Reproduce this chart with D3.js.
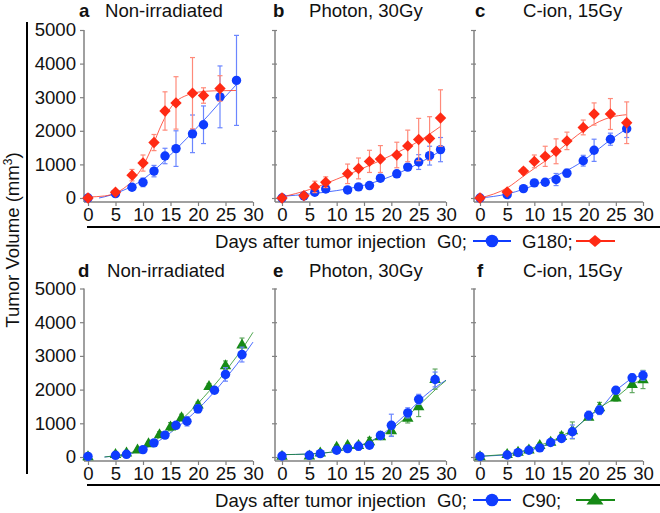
<!DOCTYPE html>
<html><head><meta charset="utf-8">
<script src="https://cdn.jsdelivr.net/npm/d3@7"></script>
<style>body{margin:0;background:#fff;} svg{display:block;font-family:"Liberation Sans",Arial,sans-serif;}</style>
</head><body>
<svg id="c" width="660" height="513"></svg>
<script>
// ---------- DATA ----------
const xTicks = [0,5,10,15,20,25,30];
const yTicks = [0,1000,2000,3000,4000,5000];
const panelLetters = ["a","b","c","d","e","f"];
const panelTitles = ["Non-irradiated","Photon, 30Gy","C-ion, 15Gy","Non-irradiated","Photon, 30Gy","C-ion, 15Gy"];
const xLabel = "Days after tumor injection";
const topLegend = ["G0;","G180;"];
const bottomLegend = ["G0;","C90;"];

// panel a
const aDaysG0 = [0,5,8,10,12,14,16,19,21,24,27];
const aG0 = [0,130,320,465,800,1250,1470,1910,2180,3010,3500];
const aG0Err = [0,40,70,130,170,230,530,560,560,920,1340];
const aDaysG180 = [0,5,8,10,12,14,16,19,21,24];
const aG180 = [0,170,680,1040,1650,2590,2830,3120,3050,3260];
const aG180Err = [0,50,170,240,240,570,780,1060,230,380];
const aFitG0Days = [2,4,6,8,10,12,14,16,18,20,22,24,26,27];
const aFitG0 = [0,80,200,350,550,820,1120,1450,1780,2130,2480,2850,3200,3380];
const aFitG180Days = [0,3,5,7,9,10,11,12,13,14,15,16,18,20,23,27];
const aFitG180 = [30,60,150,350,700,950,1280,1650,2050,2400,2680,2870,3060,3150,3190,3200];

// panel b
const bDays = [0,4,6,8,12,14,16,18,21,23,25,27,29];
const bG0 = [0,60,170,270,240,330,370,590,720,920,1070,1260,1440];
const bG0Err = [0,20,30,40,40,40,50,50,60,90,220,280,360];
const bG180 = [0,70,330,470,720,880,1090,1160,1280,1550,1740,1770,2380];
const bG180Err = [0,40,170,160,290,310,330,400,380,470,630,650,840];
const bFitDays = [0,5,10,15,20,25,29];
const bFitG0 = [50,120,220,380,650,1030,1400];
const bFitG180 = [30,250,560,900,1270,1690,2130];

// panel c
const cDays = [0,5,8,10,12,14,16,19,21,24,27];
const cG0 = [0,100,280,450,470,550,740,1110,1420,1750,2060];
const cG0Err = [0,30,40,60,90,180,120,160,330,180,260];
const cG180 = [0,180,800,1090,1240,1390,1700,2100,2500,2500,2240];
const cG180Err = [0,40,90,190,300,370,260,220,330,460,620];
const cFitDays = [0,5,8,10,12,14,16,18,20,22,24,27];
const cFitG0 = [0,120,260,380,520,660,820,1000,1230,1480,1730,2060];
const cFitG180 = [0,300,650,880,1100,1350,1620,1880,2100,2280,2400,2480];

// panel d
const dDaysG0 = [0,5,7,10,12,14,16,18,20,23,25,28];
const dG0 = [20,50,80,220,420,650,940,1060,1430,1980,2450,3040];
const dG0Err = [60,50,40,50,50,60,60,140,120,60,200,220];
const dDaysC90 = [0,5,7,9,11,13,15,17,20,22,25,28];
const dC90 = [20,80,130,220,400,670,900,1170,1550,2100,2720,3330];
const dC90Err = [40,40,40,40,60,80,120,100,80,80,130,200];
const dFitDays = [3,5,8,10,12,14,16,18,20,22,24,26,28,30];
const dFitG0 = [0,30,110,230,390,600,850,1120,1420,1760,2130,2530,2950,3410];
const dFitC90 = [0,40,140,280,470,700,960,1260,1590,1950,2330,2760,3200,3700];

// panel e
const eDays = [0,5,7,10,12,14,16,18,20,23,25,28];
const eG0 = [30,50,100,200,250,320,350,640,940,1310,1710,2300];
const eG0Err = [30,30,30,40,50,120,90,120,330,150,150,220];
const eC90 = [30,40,130,300,350,350,460,610,790,1160,1500,2310];
const eC90Err = [30,30,40,60,60,70,120,90,170,150,300,300];
const eFitDays = [0,5,10,14,16,18,20,22,24,26,28,30];
const eFitG0 = [70,90,170,330,450,640,880,1170,1480,1800,2060,2280];
const eFitC90 = [70,90,170,330,440,610,820,1080,1370,1680,1990,2270];

// panel f
const fDays = [0,5,7,9,11,13,15,17,20,22,25,28,30];
const fG0 = [20,60,130,200,270,430,550,750,1230,1390,1980,2350,2420];
const fG0Err = [30,30,40,50,50,50,80,200,130,130,100,110,140];
const fC90 = [20,80,150,220,350,450,620,790,1190,1470,1760,2160,2300];
const fC90Err = [30,30,40,60,60,60,110,250,100,150,100,250,270];

// ---------- STYLE ----------
const BLUE = "#0f3cff", BLUE_L = "#6b86ff";
const RED = "#ff2a14", RED_L = "#ff8a7a";
const GREEN = "#168a16", GREEN_L = "#62a862";
const AXIS = "#808080";
const FS = 18.6;

const svg = d3.select("#c");
const cols = [{ax:84,x0:88,x1:253},{ax:275,x0:282,x1:446},{ax:474,x0:480,x1:643}];
const rows = [{y0:198,y1:30,axY:202,lab:221,title:17},{y0:457,y1:288.5,axY:461,lab:480,title:277}];
const titlePos = [[79,105],[273,309],[475,523],[78,107],[273,309],[477,523]];

function series(days, vals, errs){ return days.map((d,i)=>({d, v:vals[i], e: errs?errs[i]:0})); }

const diamondPath = (s)=>`M0,${-s}L${s},0L0,${s}L${-s},0Z`;
const triPath = (w,h)=>`M0,${-h*0.62}L${w/2},${h*0.38}L${-w/2},${h*0.38}Z`;

function marker(g, type, color, x, y, big){
  if(type==="circle") g.append("circle").attr("cx",x).attr("cy",y).attr("r",big?6.3:4.7).attr("fill",color);
  else if(type==="diamond") g.append("path").attr("d",diamondPath(big?7:5.7)).attr("transform",`translate(${x},${y})${big?" scale(1,0.85)":""}`).attr("fill",color);
  else g.append("path").attr("d",big?triPath(17,12):triPath(11.5,10)).attr("transform",`translate(${x},${y})`).attr("fill",color);
}

const panels = [
  {fits:[[aFitG0Days,aFitG0,BLUE],[aFitG180Days,aFitG180,RED]],
   ser:[[series(aDaysG0,aG0,aG0Err),"circle",BLUE,BLUE_L],[series(aDaysG180,aG180,aG180Err),"diamond",RED,RED_L]]},
  {fits:[[bFitDays,bFitG0,BLUE],[bFitDays,bFitG180,RED]],
   ser:[[series(bDays,bG0,bG0Err),"circle",BLUE,BLUE_L],[series(bDays,bG180,bG180Err),"diamond",RED,RED_L]]},
  {fits:[[cFitDays,cFitG0,BLUE],[cFitDays,cFitG180,RED]],
   ser:[[series(cDays,cG0,cG0Err),"circle",BLUE,BLUE_L],[series(cDays,cG180,cG180Err),"diamond",RED,RED_L]]},
  {fits:[[dFitDays,dFitG0,BLUE],[dFitDays,dFitC90,GREEN]],
   ser:[[series(dDaysC90,dC90,dC90Err),"tri",GREEN,GREEN_L],[series(dDaysG0,dG0,dG0Err),"circle",BLUE,BLUE_L]]},
  {fits:[[eFitDays,eFitG0,BLUE],[eFitDays,eFitC90,GREEN]],
   ser:[[series(eDays,eC90,eC90Err),"tri",GREEN,GREEN_L],[series(eDays,eG0,eG0Err),"circle",BLUE,BLUE_L]]},
  {fits:[[fDays,fG0,BLUE,true],[fDays,fC90,GREEN,true]],
   ser:[[series(fDays,fC90,fC90Err),"tri",GREEN,GREEN_L],[series(fDays,fG0,fG0Err),"circle",BLUE,BLUE_L]]}
];

panels.forEach((p,i)=>{
  const c = cols[i%3], r = rows[Math.floor(i/3)];
  const x = d3.scaleLinear().domain([0,30]).range([c.x0,c.x1]);
  const y = d3.scaleLinear().domain([0,5000]).range([r.y0,r.y1]);
  const g = svg.append("g");

  // y axis
  const ya = g.append("g").attr("transform",`translate(${c.ax},0)`)
    .call(d3.axisLeft(y).tickValues(yTicks).tickSize(i%3===0?4:3).tickFormat(i%3===0?d3.format("d"):""));
  ya.select(".domain").remove();
  ya.append("line").attr("x1",0).attr("x2",0).attr("y1",r.y1).attr("y2",r.axY).attr("stroke",AXIS).attr("stroke-width",1.5);
  ya.selectAll(".tick line").attr("stroke",AXIS).attr("stroke-width",1.2);
  if(i%3!==0) ya.selectAll(".tick line").attr("x2",2).attr("x1",-3);
  ya.selectAll(".tick text").attr("font-size",FS).attr("fill","#111").attr("x",-8).attr("font-family","Liberation Sans, Arial, sans-serif");

  // x axis
  const xa = g.append("g").attr("transform",`translate(0,${r.axY})`)
    .call(d3.axisBottom(x).tickValues(xTicks).tickSize(4).tickFormat(d3.format("d")));
  xa.select(".domain").remove();
  xa.append("line").attr("x1",c.ax).attr("x2",c.x1).attr("y1",0).attr("y2",0).attr("stroke",AXIS).attr("stroke-width",1.5);
  xa.selectAll(".tick line").attr("stroke",AXIS).attr("stroke-width",1.2);
  xa.selectAll(".tick text").attr("font-size",FS).attr("fill","#111").attr("dy",null).attr("y",r.lab-r.axY).attr("font-family","Liberation Sans, Arial, sans-serif");

  // fits / lines
  p.fits.forEach(([ds,vs,col,lin])=>{
    const pts = ds.map((d,k)=>[d,vs[k]]);
    const line = d3.line().x(q=>x(q[0])).y(q=>y(q[1])).curve(lin?d3.curveLinear:d3.curveMonotoneX);
    g.append("path").attr("d",line(pts)).attr("fill","none").attr("stroke",col).attr("stroke-width",1).attr("opacity",0.75);
  });

  // error bars then markers
  p.ser.forEach(([s,type,col,colL])=>{
    s.forEach(q=>{
      if(q.e>0){
        const xx = x(q.d);
        g.append("line").attr("x1",xx).attr("x2",xx).attr("y1",y(q.v-q.e)).attr("y2",y(q.v+q.e)).attr("stroke",colL).attr("stroke-width",1.2);
        [q.v-q.e,q.v+q.e].forEach(vv=>g.append("line").attr("x1",xx-2.5).attr("x2",xx+2.5).attr("y1",y(vv)).attr("y2",y(vv)).attr("stroke",colL).attr("stroke-width",1.2));
      }
    });
    s.forEach(q=>marker(g,type,col,x(q.d),y(q.v),false));
  });

  // title
  svg.append("text").attr("x",titlePos[i][0]).attr("y",r.title).attr("font-size",FS).attr("font-weight","bold").attr("fill","#111").text(panelLetters[i]);
  svg.append("text").attr("x",titlePos[i][1]).attr("y",r.title).attr("font-size",FS).attr("fill","#111").text(panelTitles[i]);
});

// separators
[227,485].forEach(yy=>svg.append("line").attr("x1",87).attr("x2",660).attr("y1",yy).attr("y2",yy).attr("stroke","#000").attr("stroke-width",2));
svg.append("line").attr("x1",27).attr("x2",27).attr("y1",22).attr("y2",474).attr("stroke","#000").attr("stroke-width",2);

// y label
svg.append("text").attr("transform","translate(19,240) rotate(-90)").attr("text-anchor","middle").attr("font-size",FS).attr("fill","#111")
  .text("Tumor Volume (mm").append("tspan").attr("font-size",12).attr("dy",-7).text("3")
  .select(function(){return this.parentNode;}).append("tspan").attr("dy",7).text(")");

// legends
function legend(yBase, labels, secondType, secondColor){
  svg.append("text").attr("x",215).attr("y",yBase).attr("font-size",FS).attr("fill","#111").text(xLabel);
  svg.append("text").attr("x",437).attr("y",yBase).attr("font-size",FS).attr("fill","#111").text(labels[0]);
  svg.append("text").attr("x",522).attr("y",yBase).attr("font-size",FS).attr("fill","#111").text(labels[1]);
  const ly = yBase-7;
  svg.append("line").attr("x1",473).attr("x2",511).attr("y1",ly).attr("y2",ly).attr("stroke",BLUE).attr("stroke-width",2);
  marker(svg,"circle",BLUE,492,ly,true);
  svg.append("line").attr("x1",576).attr("x2",615).attr("y1",ly).attr("y2",ly).attr("stroke",secondColor).attr("stroke-width",2);
  marker(svg,secondType,secondColor,595,ly,true);
}
legend(248, topLegend, "diamond", RED);
legend(507, bottomLegend, "tri", GREEN);
</script>
</body></html>
